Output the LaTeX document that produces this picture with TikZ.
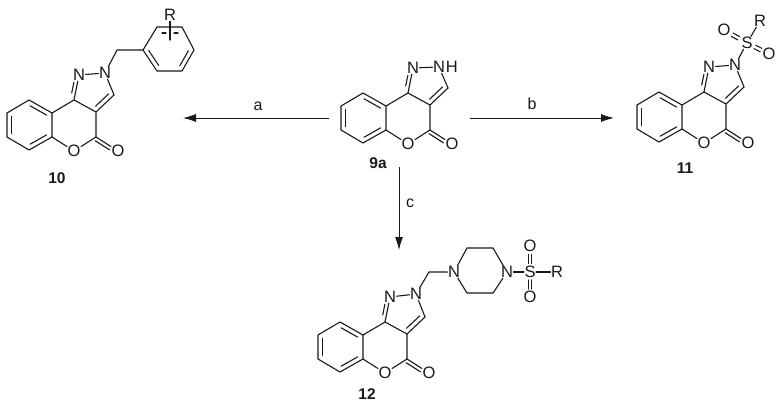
\documentclass[tikz,border=0pt]{standalone}
\usepackage{fontspec}
\setmainfont{Liberation Sans}
\usetikzlibrary{calc,arrows.meta}
\tikzset{
  atom/.style={inner sep=0.4pt,font=\fontsize{16.5}{16.5}\selectfont,text=black!90},
  cmpd/.style={inner sep=0pt,font=\fontsize{15.5}{15.5}\selectfont\bfseries,text=black!90},
  cond/.style={inner sep=0pt,font=\fontsize{16}{16}\selectfont,text=black!90},
  bond/.style={draw=black!90,line width=1.1pt,line cap=round},
  rxn/.style={draw=black!90,line width=0.85pt,-{Latex[length=13pt,width=8pt]}}
}
% inner line of a double bond, on one side of a--b
\newcommand{\innerbond}[3]{\draw[bond] ($(#1)!0.14!(#2)!4.5pt!#3:(#2)$) -- ($(#2)!0.14!(#1)!4.5pt!-#3:(#1)$);}
% two lines either side of a--b (between labelled atoms or from a carbon)
\newcommand{\twobond}[4]{\draw[bond] ($(#1)!#3!(#2)!1.9pt!90:(#2)$) -- ($(#2)!#4!(#1)!1.9pt!-90:(#1)$);
  \draw[bond] ($(#1)!#3!(#2)!1.9pt!-90:(#2)$) -- ($(#2)!#4!(#1)!1.9pt!90:(#1)$);}
% the common ring system
\newcommand{\ringcore}[3]{%
\begin{scope}[shift={(#2,#3)}]
  \coordinate (#1b1) at (29,100); \coordinate (#1b2) at (52,113);
  \coordinate (#1b3) at (52,137); \coordinate (#1b4) at (29,150);
  \coordinate (#1b5) at (7,137);  \coordinate (#1b6) at (7,113);
  \coordinate (#1c9) at (74,100); \coordinate (#1c3) at (114,95);
  \coordinate (#1c3a) at (96,112); \coordinate (#1c4) at (96,137);
  \node[atom] (#1n1) at (79,75) {N};
  \node[atom] (#1o5) at (74,151) {O};
  \node[atom] (#1ox) at (118,151) {O};
\end{scope}
\draw[bond] (#1b1)--(#1b2)--(#1b3)--(#1b4)--(#1b5)--(#1b6)--cycle;
\innerbond{#1b1}{#1b2}{-90}
\innerbond{#1b3}{#1b4}{-90}
\innerbond{#1b5}{#1b6}{-90}
\draw[bond] (#1b2)--(#1c9) (#1c9)--(#1c3a) (#1c3a)--(#1c4) (#1c3a)--(#1c3);
\draw[bond] (#1b3)--(#1o5) (#1o5)--(#1c4);
\draw[bond] (#1c9)--(#1n1);
\draw[bond] ($(#1c9)!0.25!(#1n1)!3.6pt!90:(#1n1)$) -- ($(#1n1)!0.32!(#1c9)!3.6pt!-90:(#1c9)$);
\innerbond{#1c3a}{#1c3}{90}
\draw[bond] (#1c4)--(#1ox);
\draw[bond] ($(#1c4)!0.05!(#1ox)!3.6pt!-90:(#1ox)$) -- ($(#1ox)!0.3!(#1c4)!3.6pt!90:(#1c4)$);
}
\begin{document}
\begin{tikzpicture}[x=1pt,y=-1pt]
\useasboundingbox (0,0) rectangle (781,406);
% --- 10
\ringcore{a}{0}{0}
\node[atom] (an2) at (105,73) {N};
\coordinate (ach) at (117,50);
\coordinate (ap1) at (143,50); \coordinate (ap2) at (157,27); \coordinate (ap3) at (182,27);
\coordinate (ap4) at (194,50); \coordinate (ap5) at (182,71); \coordinate (ap6) at (157,71);
\draw[bond] (an1)--(an2) (an2)--(ac3) (an2)--(ach)--(ap1);
\draw[bond] (ap1)--(ap2)--(ap3)--(ap4)--(ap5)--(ap6)--cycle;
\innerbond{ap1}{ap6}{90}
\innerbond{ap4}{ap5}{-90}
\coordinate (apl) at (162,33); \coordinate (apm) at (166,33);
\coordinate (apn) at (174,33); \coordinate (apr) at (178,33);
\draw[bond] (apl)--(apm) (apn)--(apr);
\node[atom] (ar) at (170,15) {R};
\coordinate (arb) at (170,40);
\draw[bond] (ar)--(arb);
\node[cmpd] (l10) at (57,178) {10};
% --- 9a
\ringcore{b}{334}{-7}
\node[atom] (bn2) at (439,67) {N};
\node[atom,anchor=west,inner sep=0pt] (bh) at (bn2.east) {H};
\draw[bond] (bn1)--(bn2) (bn2)--(bc3);
\node[cmpd] (l9) at (378,163) {9a};
% --- 11
\ringcore{c}{630}{-8}
\node[atom] (cn2) at (735,65) {N};
\node[atom] (cs) at (747,43) {S};
\node[atom] (co1) at (724,30) {O};
\node[atom] (co2) at (769,54) {O};
\node[atom] (cr) at (760,21) {R};
\draw[bond] (cn1)--(cn2) (cn2)--(cc3) (cn2)--(cs) (cs)--(cr);
\twobond{cs}{co1}{0.36}{0.36}
\twobond{cs}{co2}{0.36}{0.36}
\node[cmpd] (l11) at (685,168) {11};
% --- 12
\ringcore{d}{311}{222}
\node[atom] (dn2) at (416,294) {N};
\coordinate (dch) at (429,272);
\node[atom] (dp1) at (454,272) {N};
\coordinate (dp2) at (467,248); \coordinate (dp3) at (493,248);
\node[atom] (dp4) at (507,272) {N};
\coordinate (dp5) at (493,293); \coordinate (dp6) at (467,293);
\node[atom] (ds) at (530,272) {S};
\node[atom] (do1) at (530,246) {O};
\node[atom] (do2) at (530,297) {O};
\node[atom] (dr) at (557,272) {R};
\draw[bond] (dn1)--(dn2) (dn2)--(dc3) (dn2)--(dch)--(dp1);
\draw[bond] (dp1)--(dp2)--(dp3)--(dp4)--(dp5)--(dp6)--(dp1);
\draw[bond] (dp4)--(ds) (ds)--(dr);
\twobond{ds}{do1}{0.32}{0.32}
\twobond{ds}{do2}{0.32}{0.32}
\node[cmpd] (l12) at (367,394) {12};
% --- reaction arrows
\coordinate (ra1) at (329,118); \coordinate (ra2) at (183,118);
\coordinate (rb1) at (470,118); \coordinate (rb2) at (614,118);
\coordinate (rc1) at (399,167); \coordinate (rc2) at (399,250);
\draw[rxn] (ra1)--(ra2);
\draw[rxn] (rb1)--(rb2);
\draw[rxn] (rc1)--(rc2);
\node[cond] (la) at (258,106) {a};
\node[cond] (lb) at (532,104) {b};
\node[cond] (lc) at (410,203) {c};
\end{tikzpicture}
\end{document}
